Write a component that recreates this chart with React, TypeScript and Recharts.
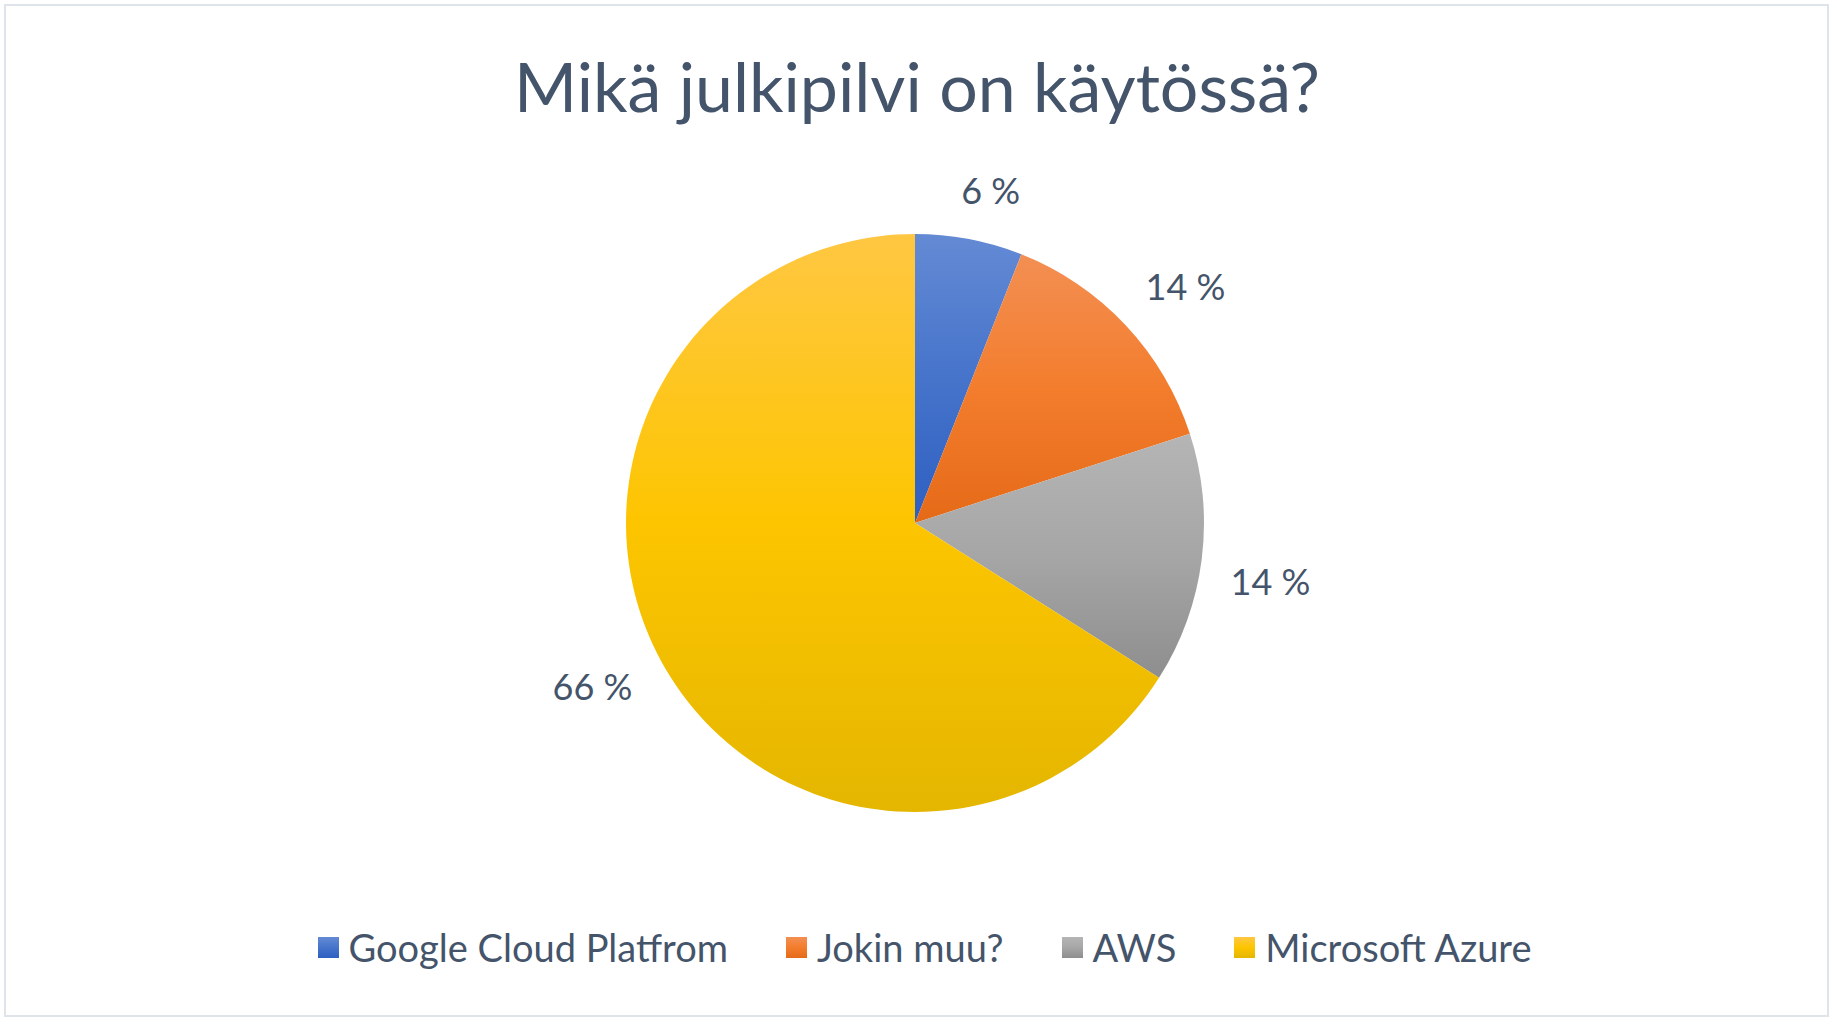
import { PieChart, Pie, Cell, Legend } from 'recharts'

const categories = ['Google Cloud Platfrom', 'Jokin muu?', 'AWS', 'Microsoft Azure']
const shares = [6, 14, 14, 66]

// top / middle / bottom of each slice's vertical gradient
const SHADES = [
  ['#648ad4', '#4674cb', '#2e5fc1'],
  ['#f38f53', '#f37d2d', '#e56a18'],
  ['#b5b5b5', '#a6a6a6', '#8e8e8e'],
  ['#ffc742', '#fdc500', '#e4b600'],
]

const TEXT = '#44546a'
const FONT = 'Lato, "Open Sans", sans-serif'
const RADIAN = Math.PI / 180

const data = categories.map((name, i) => ({ name, value: shares[i] }))

function renderLabel(props: any) {
  const { cx, cy, midAngle, outerRadius, percent } = props
  const text = `${Math.round(percent * 100)} %`
  const size = 36
  const hw = (size * (0.58 * (text.length - 2) + 1.0)) / 2
  const hh = 17
  // Excel nudges outside labels a little clockwise
  const a = -(midAngle - 2) * RADIAN
  const dx = Math.cos(a)
  const dy = Math.sin(a)
  const r = outerRadius + 30 + hw * Math.abs(dx) + hh * Math.abs(dy)
  return (
    <text
      x={cx + r * dx}
      y={cy + r * dy}
      textAnchor="middle"
      dominantBaseline="central"
      fill={TEXT}
      fontSize={size}
      fontFamily={FONT}
    >
      {text}
    </text>
  )
}

function LegendRow() {
  return (
    <div
      style={{
        display: 'flex',
        justifyContent: 'center',
        alignItems: 'center',
        gap: 58,
        fontFamily: FONT,
        fontSize: 38,
        color: TEXT,
        marginLeft: 12,
      }}
    >
      {categories.map((c, i) => (
        <div key={c} style={{ display: 'flex', alignItems: 'center' }}>
          <span
            style={{
              width: 21,
              height: 21,
              marginRight: 10,
              background: `linear-gradient(${SHADES[i][0]}, ${SHADES[i][1]}, ${SHADES[i][2]})`,
            }}
          />
          <span style={{ lineHeight: '40px' }}>{c}</span>
        </div>
      ))}
    </div>
  )
}

export default function App() {
  return (
    <div style={{ position: 'absolute', left: 0, top: 0, width: 1837, height: 1026, background: '#fff' }}>
      <div
        style={{
          position: 'absolute',
          left: 4,
          top: 4,
          width: 1825,
          height: 1013,
          border: '2px solid #dfe4ea',
          boxSizing: 'border-box',
        }}
      />
      <div
        style={{
          position: 'absolute',
          left: 0,
          top: 52,
          width: 1834,
          textAlign: 'center',
          fontFamily: FONT,
          fontSize: 68,
          lineHeight: '68px',
          color: TEXT,
        }}
      >
        Mikä julkipilvi on käytössä?
      </div>
      <PieChart
        width={1837}
        height={1026}
        margin={{ top: 0, right: 0, bottom: 0, left: 0 }}
        style={{ position: 'absolute', left: 0, top: 0 }}
      >
        <defs>
          {SHADES.map((s, i) => (
            <linearGradient key={i} id={`slice-${i}`} x1="0" y1="0" x2="0" y2="1">
              <stop offset="0%" stopColor={s[0]} />
              <stop offset="50%" stopColor={s[1]} />
              <stop offset="100%" stopColor={s[2]} />
            </linearGradient>
          ))}
        </defs>
        <Pie
          data={data}
          dataKey="value"
          nameKey="name"
          cx={915}
          cy={523}
          outerRadius={289}
          startAngle={90}
          endAngle={-270}
          stroke="none"
          label={renderLabel}
          labelLine={false}
          isAnimationActive={false}
        >
          {data.map((d, i) => (
            <Cell key={d.name} fill={`url(#slice-${i})`} />
          ))}
        </Pie>
        <Legend
          content={<LegendRow />}
          wrapperStyle={{ position: 'absolute', left: 0, top: 927, width: 1837 }}
        />
      </PieChart>
    </div>
  )
}
